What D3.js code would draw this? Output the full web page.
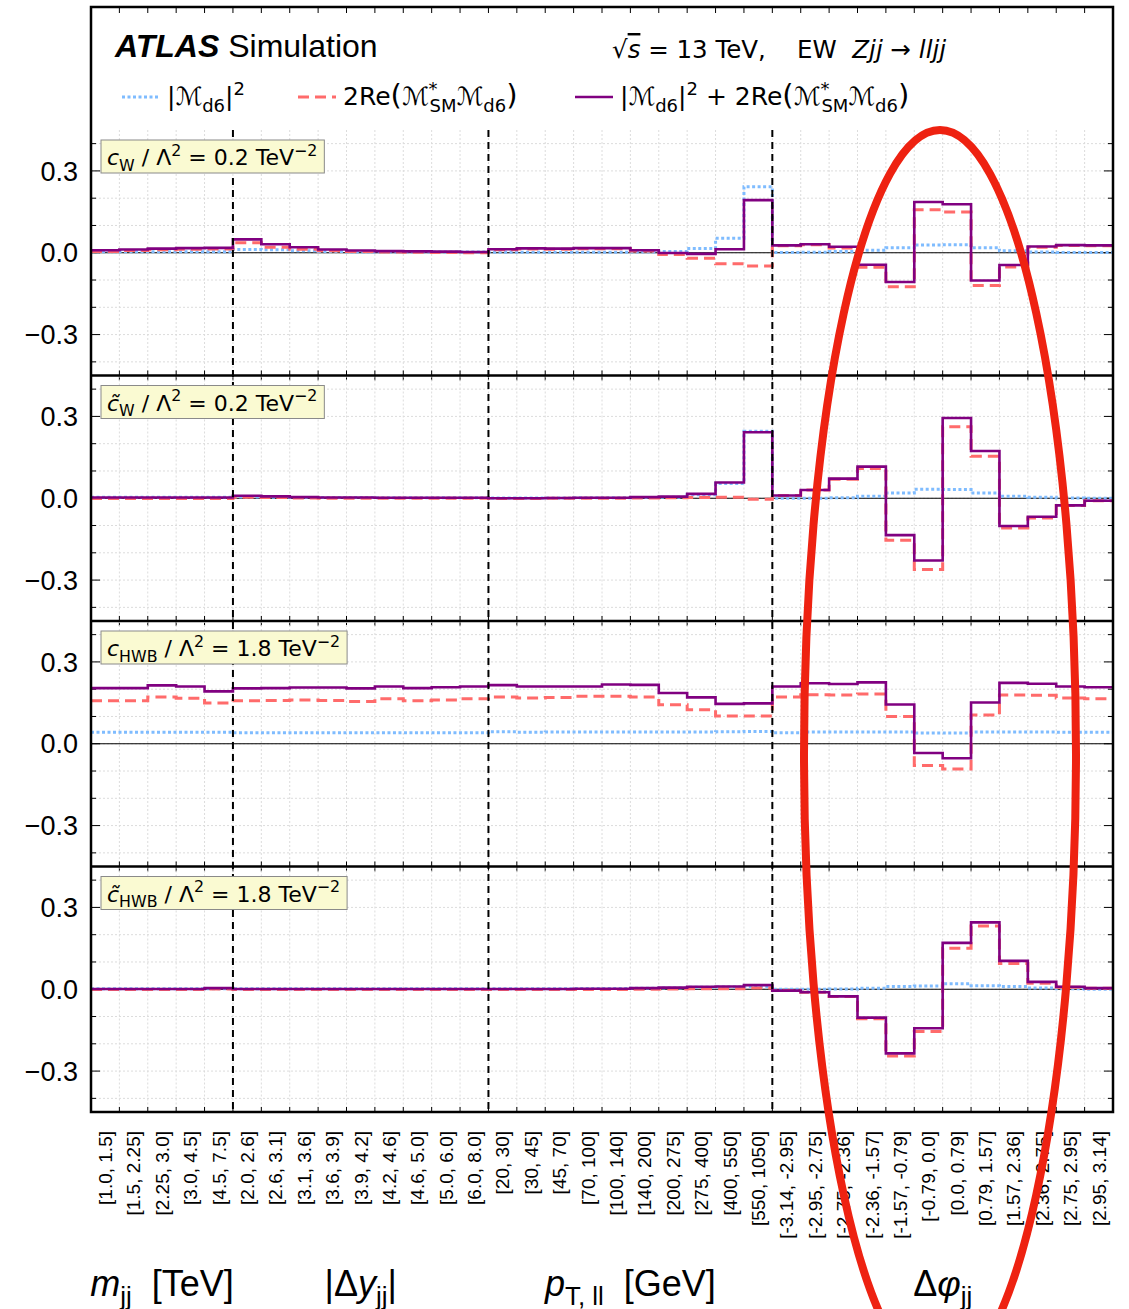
<!DOCTYPE html>
<html>
<head>
<meta charset="utf-8">
<script src="https://cdn.jsdelivr.net/npm/d3@7"></script>
<style>
  body { margin: 0; background: #fff; }
  text { white-space: pre; }
</style>
</head>
<body>
<script>
// bin labels, grouped by observable
var mjjBins = ['[1.0, 1.5]', '[1.5, 2.25]', '[2.25, 3.0]', '[3.0, 4.5]', '[4.5, 7.5]'];
var dyBins = ['[2.0, 2.6]', '[2.6, 3.1]', '[3.1, 3.6]', '[3.6, 3.9]', '[3.9, 4.2]', '[4.2, 4.6]', '[4.6, 5.0]', '[5.0, 6.0]', '[6.0, 8.0]'];
var ptBins = ['[20, 30]', '[30, 45]', '[45, 70]', '[70, 100]', '[100, 140]', '[140, 200]', '[200, 275]', '[275, 400]', '[400, 550]', '[550, 1050]'];
var dphiBins = ['[-3.14, -2.95]', '[-2.95, -2.75]', '[-2.75, -2.36]', '[-2.36, -1.57]', '[-1.57, -0.79]', '[-0.79, 0.0]', '[0.0, 0.79]', '[0.79, 1.57]', '[1.57, 2.36]', '[2.36, 2.75]', '[2.75, 2.95]', '[2.95, 3.14]'];
var yTicks = [-0.3, 0.0, 0.3];

// |M_d6|^2  (blue dotted)
var cwSq = [0.004, 0.004, 0.004, 0.004, 0.004,
  0.012, 0.011, 0.007, 0.005, 0.003, 0.003, 0.003, 0.003, 0.003,
  0.002, 0.002, 0.002, 0.002, 0.002, 0.003, 0.005, 0.016, 0.053, 0.242,
  0.001, 0.002, 0.005, 0.009, 0.018, 0.028, 0.029, 0.018, 0.007, 0.003, 0.001, 0.001];
// 2Re(M*_SM M_d6)  (red dashed)
var cwInt = [0.005, 0.008, 0.011, 0.013, 0.014,
  0.037, 0.020, 0.013, 0.007, 0.005, 0.003, 0.002, 0.001, 0.000,
  0.011, 0.014, 0.013, 0.015, 0.015, 0.006, -0.006, -0.020, -0.040, -0.049,
  0.026, 0.029, 0.017, -0.053, -0.125, 0.158, 0.149, -0.120, -0.052, 0.020, 0.027, 0.026];
// sum  (purple solid)
var cwTot = [0.009, 0.012, 0.015, 0.017, 0.018,
  0.049, 0.031, 0.020, 0.012, 0.008, 0.006, 0.005, 0.004, 0.003,
  0.013, 0.016, 0.015, 0.017, 0.017, 0.009, -0.001, -0.004, 0.013, 0.193,
  0.027, 0.031, 0.022, -0.044, -0.107, 0.186, 0.178, -0.102, -0.045, 0.023, 0.028, 0.027];

var cwtSq = [0.004, 0.004, 0.004, 0.004, 0.004,
  0.005, 0.004, 0.003, 0.003, 0.003, 0.002, 0.002, 0.002, 0.002,
  0.001, 0.001, 0.001, 0.002, 0.002, 0.003, 0.004, 0.013, 0.054, 0.246,
  0.000, 0.000, 0.002, 0.007, 0.019, 0.033, 0.032, 0.019, 0.007, 0.004, 0.001, 0.000];
var cwtInt = [-0.001, -0.001, -0.001, -0.001, -0.001,
  0.004, 0.003, 0.001, 0.000, 0.000, 0.000, 0.000, 0.000, 0.000,
  -0.001, -0.001, 0.000, 0.000, 0.000, 0.001, 0.002, 0.003, 0.004, -0.004,
  0.010, 0.030, 0.070, 0.109, -0.154, -0.261, 0.262, 0.154, -0.109, -0.072, -0.027, -0.009];
var cwtTot = [0.003, 0.003, 0.003, 0.003, 0.003,
  0.009, 0.007, 0.004, 0.003, 0.003, 0.002, 0.002, 0.002, 0.002,
  0.000, 0.000, 0.001, 0.002, 0.002, 0.004, 0.006, 0.016, 0.058, 0.242,
  0.010, 0.030, 0.072, 0.116, -0.135, -0.228, 0.294, 0.173, -0.102, -0.068, -0.026, -0.009];

var chwbSq = [0.042, 0.042, 0.042, 0.042, 0.042,
  0.040, 0.040, 0.040, 0.040, 0.040, 0.040, 0.040, 0.040, 0.040,
  0.044, 0.042, 0.043, 0.043, 0.043, 0.043, 0.043, 0.043, 0.044, 0.045,
  0.040, 0.043, 0.043, 0.043, 0.043, 0.039, 0.039, 0.043, 0.043, 0.043, 0.042, 0.042];
var chwbInt = [0.158, 0.158, 0.171, 0.167, 0.149,
  0.158, 0.159, 0.160, 0.159, 0.155, 0.165, 0.158, 0.160, 0.165,
  0.171, 0.168, 0.170, 0.174, 0.174, 0.171, 0.143, 0.125, 0.102, 0.102,
  0.171, 0.180, 0.179, 0.182, 0.100, -0.080, -0.093, 0.105, 0.179, 0.178, 0.168, 0.165];
var chwbTot = [0.204, 0.204, 0.214, 0.210, 0.192,
  0.203, 0.204, 0.206, 0.206, 0.203, 0.210, 0.204, 0.207, 0.210,
  0.215, 0.210, 0.210, 0.210, 0.217, 0.216, 0.186, 0.170, 0.146, 0.148,
  0.210, 0.222, 0.219, 0.225, 0.144, -0.034, -0.053, 0.151, 0.223, 0.220, 0.210, 0.207];

var chwbtSq = [0.002, 0.002, 0.002, 0.002, 0.002,
  0.002, 0.002, 0.002, 0.002, 0.002, 0.002, 0.002, 0.002, 0.002,
  0.002, 0.002, 0.002, 0.003, 0.003, 0.004, 0.005, 0.007, 0.008, 0.010,
  0.000, 0.000, 0.001, 0.004, 0.010, 0.012, 0.020, 0.013, 0.010, 0.005, 0.002, 0.000];
var chwbtInt = [-0.001, -0.001, -0.001, -0.001, 0.001,
  -0.001, -0.001, -0.001, -0.001, -0.001, -0.001, -0.001, -0.001, -0.001,
  -0.001, -0.001, -0.001, -0.001, -0.001, 0.000, 0.001, 0.002, 0.002, 0.005,
  -0.005, -0.011, -0.027, -0.108, -0.245, -0.155, 0.150, 0.232, 0.094, 0.022, 0.007, 0.004];
var chwbtTot = [0.001, 0.001, 0.001, 0.001, 0.004,
  0.001, 0.001, 0.001, 0.001, 0.001, 0.001, 0.001, 0.001, 0.001,
  0.001, 0.001, 0.001, 0.002, 0.002, 0.004, 0.006, 0.009, 0.010, 0.015,
  -0.005, -0.011, -0.026, -0.104, -0.235, -0.143, 0.170, 0.245, 0.104, 0.027, 0.009, 0.004];

var binLabels = mjjBins.concat(dyBins, ptBins, dphiBins);
var nBins = binLabels.length;
var groupEdges = [0, mjjBins.length, mjjBins.length + dyBins.length,
  mjjBins.length + dyBins.length + ptBins.length, nBins];

var panels = [
  {label: [{t: 'c', it: true}, {t: 'W', sub: true}, {t: ' / Λ'}, {t: '2', sup: true}, {t: ' = 0.2 TeV'}, {t: '−2', sup: true}],
    sq: cwSq, inter: cwInt, tot: cwTot},
  {label: [{t: 'c\u0303', it: true}, {t: 'W', sub: true}, {t: ' / Λ'}, {t: '2', sup: true}, {t: ' = 0.2 TeV'}, {t: '−2', sup: true}],
    sq: cwtSq, inter: cwtInt, tot: cwtTot},
  {label: [{t: 'c', it: true}, {t: 'HWB', sub: true}, {t: ' / Λ'}, {t: '2', sup: true}, {t: ' = 1.8 TeV'}, {t: '−2', sup: true}],
    sq: chwbSq, inter: chwbInt, tot: chwbTot},
  {label: [{t: 'c\u0303', it: true}, {t: 'HWB', sub: true}, {t: ' / Λ'}, {t: '2', sup: true}, {t: ' = 1.8 TeV'}, {t: '−2', sup: true}],
    sq: chwbtSq, inter: chwbtInt, tot: chwbtTot}
];

var width = 1129, height = 1309;
var left = 91, right = 1113, frameTop = 7, firstTop = 130, bottom = 1112;
var panelH = (bottom - firstTop) / panels.length;
var SANS = '"Liberation Sans", Arial, sans-serif';
var MATH = '"DejaVu Sans", sans-serif';
var blue = '#7fbcff', red = '#ff6b6b', purple = '#800080';

var svg = d3.select('body').append('svg')
  .attr('width', width)
  .attr('height', height);

var x = d3.scaleLinear().domain([0, nBins]).range([left, right]);
var edges = d3.range(0, nBins + 1);

// text with simple sub/superscripts
var richText = function(g, px, py, parts, size, family) {
  var t = g.append('text').attr('x', px).attr('y', py)
    .style('font-family', family).style('font-size', size + 'px').attr('fill', '#000');
  var off = 0;
  parts.forEach(function(p) {
    var shift = p.sub ? 0.26 * size : (p.sup ? -0.42 * size : 0);
    var ts = t.append('tspan').text(p.t).attr('dy', shift - off);
    if(p.sub || p.sup) { ts.style('font-size', (0.72 * size) + 'px'); }
    if(p.size) { ts.style('font-size', p.size + 'px'); }
    if(p.it) { ts.style('font-style', 'italic'); }
    if(p.bold) { ts.style('font-weight', 'bold'); }
    if(p.dx) { ts.attr('dx', p.dx); }
    if(p.over) { ts.style('text-decoration', 'overline'); }
    off = shift;
  });
  return t;
};

var stepLine = function(y) {
  return d3.line()
    .x(function(d) { return x(d[0]); })
    .y(function(d) { return y(d[1]); })
    .curve(d3.curveStepAfter);
};

var panelTop = function(i) { return firstTop + i * panelH; };

var drawPanel = function(p, i) {
  var top = panelTop(i);
  var y = d3.scaleLinear().domain([-0.45, 0.45]).range([top + panelH, top]);
  var g = svg.append('g');

  // grid
  g.selectAll('.hgrid').data(d3.range(-4, 5)).enter().append('line')
    .attr('x1', left).attr('x2', right)
    .attr('y1', function(d) { return y(d / 10); })
    .attr('y2', function(d) { return y(d / 10); })
    .style('stroke', '#dcdcdc').style('stroke-width', 1).style('stroke-dasharray', '2,2');
  g.selectAll('.vgrid').data(edges.slice(1, -1)).enter().append('line')
    .attr('x1', function(d) { return x(d); }).attr('x2', function(d) { return x(d); })
    .attr('y1', top).attr('y2', top + panelH)
    .style('stroke', '#dcdcdc').style('stroke-width', 1).style('stroke-dasharray', '2,2');

  // zero line
  g.append('line')
    .attr('x1', left).attr('x2', right).attr('y1', y(0)).attr('y2', y(0))
    .style('stroke', '#000').style('stroke-width', 1.2);

  // y ticks, both sides
  d3.range(-4, 5).forEach(function(d) {
    var major = (d % 3 === 0);
    var len = major ? 9 : 5;
    g.append('line').attr('x1', left).attr('x2', left + len)
      .attr('y1', y(d / 10)).attr('y2', y(d / 10)).style('stroke', '#000').style('stroke-width', 1);
    g.append('line').attr('x1', right - len).attr('x2', right)
      .attr('y1', y(d / 10)).attr('y2', y(d / 10)).style('stroke', '#000').style('stroke-width', 1);
  });
  g.selectAll('.ylab').data(yTicks).enter().append('text')
    .attr('x', 78).attr('y', function(d) { return y(d); })
    .attr('dy', '0.36em')
    .attr('text-anchor', 'end')
    .style('font-family', SANS).style('font-size', '27px')
    .text(function(d) { return d3.format('.1f')(d); });

  // series
  var series = [
    {vals: p.sq, color: blue, dash: '3,2.5', w: 3},
    {vals: p.inter, color: red, dash: '11,6', w: 3},
    {vals: p.tot, color: purple, dash: null, w: 2.6}
  ];
  series.forEach(function(s) {
    var pts = s.vals.map(function(v, k) { return [k, v]; });
    pts.push([nBins, s.vals[nBins - 1]]);
    g.append('path').datum(pts)
      .attr('d', stepLine(y))
      .style('fill', 'none')
      .style('stroke', s.color)
      .style('stroke-width', s.w)
      .style('stroke-dasharray', s.dash);
  });

  // x ticks on the panel bottom edge, both directions
  g.selectAll('.xt').data(edges.slice(1, -1)).enter().append('line')
    .attr('x1', function(d) { return x(d); }).attr('x2', function(d) { return x(d); })
    .attr('y1', top + panelH - 5).attr('y2', top + panelH + (i < panels.length - 1 ? 5 : 0))
    .style('stroke', '#000').style('stroke-width', 1);

  if(i > 0) {
    g.append('line').attr('x1', left).attr('x2', right).attr('y1', top).attr('y2', top)
      .style('stroke', '#000').style('stroke-width', 2.5);
  }
};

var drawPanelLabel = function(p, i) {
  var top = panelTop(i);
  var g = svg.append('g');
  var lab = richText(g, 107, top + 35, p.label, 22, MATH);
  var bb = lab.node().getBBox();
  g.insert('rect', 'text')
    .attr('x', 101).attr('y', top + 10)
    .attr('width', bb.width + 13).attr('height', 33)
    .style('fill', '#fafad2').style('stroke', '#8a8a8a').style('stroke-width', 1);
};

panels.forEach(drawPanel);

// ticks on the top edge of the frame
svg.selectAll('.topt').data(edges.slice(1, -1)).enter().append('line')
  .attr('x1', function(d) { return x(d); }).attr('x2', function(d) { return x(d); })
  .attr('y1', frameTop).attr('y2', frameTop + 6)
  .style('stroke', '#000').style('stroke-width', 1);

// observable separators
svg.selectAll('.sep').data(groupEdges.slice(1, -1)).enter().append('line')
  .attr('x1', function(d) { return x(d); }).attr('x2', function(d) { return x(d); })
  .attr('y1', firstTop).attr('y2', bottom)
  .style('stroke', '#000').style('stroke-width', 2).style('stroke-dasharray', '7,5');

panels.forEach(drawPanelLabel);

// outer frame
svg.append('rect')
  .attr('x', left).attr('y', frameTop)
  .attr('width', right - left).attr('height', bottom - frameTop)
  .style('fill', 'none').style('stroke', '#000').style('stroke-width', 2.5);

// bin labels
svg.selectAll('.xlab').data(binLabels).enter().append('text')
  .attr('transform', function(d, k) { return 'translate(' + x(k + 0.5) + ',1131) rotate(-90)'; })
  .attr('dy', '0.36em')
  .attr('text-anchor', 'end')
  .style('font-family', SANS).style('font-size', '19px')
  .text(function(d) { return d; });

// observable titles
var titles = [
  [{t: 'm', it: true}, {t: 'jj', sub: true}, {t: '  [TeV]'}],
  [{t: '|Δ'}, {t: 'y', it: true}, {t: 'jj', sub: true}, {t: '|'}],
  [{t: 'p', it: true}, {t: 'T, ll', sub: true}, {t: '  [GeV]'}],
  [{t: 'Δ'}, {t: 'φ', it: true}, {t: 'jj', sub: true}]
];
titles.forEach(function(parts, k) {
  var cx = x((groupEdges[k] + groupEdges[k + 1]) / 2);
  var t = richText(svg, cx, 1296, parts, 36, SANS);
  t.attr('text-anchor', 'middle');
});

// header
richText(svg, 115, 57, [{t: 'ATLAS', it: true, bold: true}, {t: ' Simulation'}], 32, SANS);
richText(svg, 612, 58, [{t: '√'}, {t: 's', it: true, over: true}, {t: ' = 13 TeV,    EW  '},
  {t: 'Zjj', it: true}, {t: ' → '}, {t: 'lljj', it: true}], 24.5, MATH);

// legend
var legendY = 97;
var legendItems = [
  {x0: 122, color: blue, dash: '3,2.5', w: 3,
    parts: [{t: '|ℳ'}, {t: 'd6', sub: true}, {t: '|'}, {t: '2', sup: true}]},
  {x0: 298, color: red, dash: '11,6', w: 3,
    parts: [{t: '2Re'}, {t: '(', size: 29}, {t: 'ℳ'}, {t: '*', sup: true}, {t: 'SM', sub: true, dx: -8},
      {t: 'ℳ'}, {t: 'd6', sub: true}, {t: ')', size: 29}]},
  {x0: 575, color: purple, dash: null, w: 2.6,
    parts: [{t: '|ℳ'}, {t: 'd6', sub: true}, {t: '|'}, {t: '2', sup: true}, {t: ' + 2Re'}, {t: '(', size: 29},
      {t: 'ℳ'}, {t: '*', sup: true}, {t: 'SM', sub: true, dx: -8}, {t: 'ℳ'}, {t: 'd6', sub: true}, {t: ')', size: 29}]}
];
legendItems.forEach(function(item) {
  svg.append('line')
    .attr('x1', item.x0).attr('x2', item.x0 + 38).attr('y1', legendY).attr('y2', legendY)
    .style('stroke', item.color).style('stroke-width', item.w).style('stroke-dasharray', item.dash);
  richText(svg, item.x0 + 45, legendY + 8, item.parts, 25, MATH);
});

// highlight annotation
svg.append('ellipse')
  .attr('cx', 940).attr('cy', 754).attr('rx', 136).attr('ry', 624)
  .style('fill', 'none').style('stroke', '#ee2211').style('stroke-width', 8);
</script>
</body>
</html>
